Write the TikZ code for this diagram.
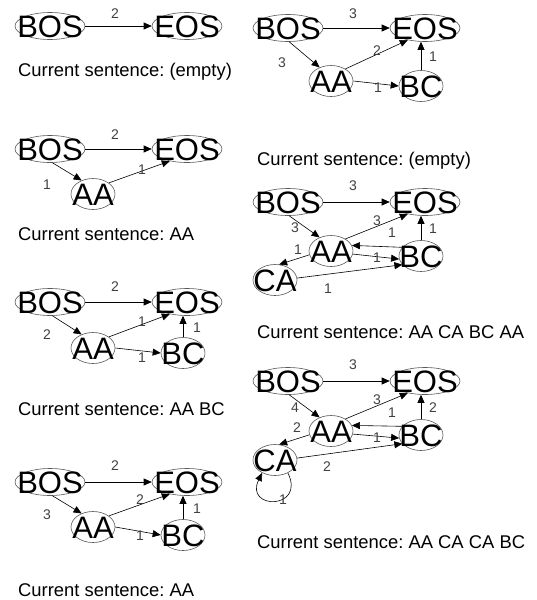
\documentclass[tikz,border=0pt]{standalone}
\usepackage{fontspec}
\setmainfont{Liberation Sans}
\usetikzlibrary{arrows.meta,shapes.geometric}
\frenchspacing
\newcommand{\nodetxt}[1]{\makebox[0pt]{\smash{\raisebox{-0.36em}{#1}}}}
\begin{document}
\begin{tikzpicture}[x=1pt,y=-1pt,
  st/.style={ellipse,draw=black!65,line width=0.6pt,fill=white,inner sep=0pt,font=\fontsize{31}{31}\selectfont},
  big/.style={st,minimum width=70pt,minimum height=27pt},
  sml/.style={st,minimum width=44pt,minimum height=31pt},
  lbl/.style={font=\fontsize{14}{14}\selectfont,text=black!75,inner sep=0pt},
  captxt/.style={font=\fontsize{18.4}{20}\selectfont,anchor=base west,inner sep=0pt},
  arr/.style={-{Triangle[length=8pt,width=7pt]},line width=0.6pt}]
\useasboundingbox (0,0) rectangle (537,600);

% ---------- D1 ----------
\node[big] (a1) at (50,26) {\nodetxt{BOS}};
\node[big] (b1) at (187,26) {\nodetxt{EOS}};
\draw[arr] (a1.east) -- (b1.west);
\node[lbl] (l11) at (115,14) {2};
\node[captxt] (t1) at (18,76) {Current sentence: (empty)};

% ---------- D2 ----------
\node[big] (a2) at (50,149) {\nodetxt{BOS}};
\node[big] (b2) at (187,149) {\nodetxt{EOS}};
\node[sml] (c2) at (93,194) {\nodetxt{AA}};
\draw[arr] (a2.east) -- (b2.west);
\draw[arr] (a2.-80) -- (c2.130);
\draw[arr] (c2.35) -- (b2.215);
\node[lbl] (l21) at (115,135) {2};
\node[lbl] (l22) at (47,185) {1};
\node[lbl] (l23) at (142,170) {1};
\node[captxt] (t2) at (18,240) {Current sentence: AA};

% ---------- D3 ----------
\node[big] (a3) at (50,302) {\nodetxt{BOS}};
\node[big] (b3) at (187,302) {\nodetxt{EOS}};
\node[sml] (c3) at (93,348) {\nodetxt{AA}};
\node[sml] (d3) at (183,353) {\nodetxt{BC}};
\draw[arr] (a3.east) -- (b3.west);
\draw[arr] (a3.-80) -- (c3.130);
\draw[arr] (c3.35) -- (b3.215);
\draw[arr] (c3.east) -- (d3.west);
\draw[arr] (d3.north) -- (d3.north |- b3.south);
\node[lbl] (l31) at (115,287) {2};
\node[lbl] (l32) at (47,335) {2};
\node[lbl] (l33) at (142,322) {1};
\node[lbl] (l34) at (142,358) {1};
\node[lbl] (l35) at (197,328) {1};
\node[captxt] (t3) at (18,415) {Current sentence: AA BC};

% ---------- D4 ----------
\node[big] (a4) at (50,482) {\nodetxt{BOS}};
\node[big] (b4) at (187,482) {\nodetxt{EOS}};
\node[sml] (c4) at (93,527) {\nodetxt{AA}};
\node[sml] (d4) at (183,535) {\nodetxt{BC}};
\draw[arr] (a4.east) -- (b4.west);
\draw[arr] (a4.-80) -- (c4.130);
\draw[arr] (c4.35) -- (b4.215);
\draw[arr] (c4.east) -- (d4.west);
\draw[arr] (d4.north) -- (d4.north |- b4.south);
\node[lbl] (l41) at (115,466) {2};
\node[lbl] (l42) at (47,515) {3};
\node[lbl] (l43) at (140,500) {2};
\node[lbl] (l44) at (140,536) {1};
\node[lbl] (l45) at (197,509) {1};
\node[captxt] (t4) at (18,596) {Current sentence: AA};

% ---------- D5 ----------
\node[big] (a5) at (288,28) {\nodetxt{BOS}};
\node[big] (b5) at (425,28) {\nodetxt{EOS}};
\node[sml] (c5) at (331,81) {\nodetxt{AA}};
\node[sml] (d5) at (421,86) {\nodetxt{BC}};
\draw[arr] (a5.east) -- (b5.west);
\draw[arr] (a5.-85) -- (c5.130);
\draw[arr] (c5.40) -- (b5.215);
\draw[arr] (c5.east) -- (d5.west);
\draw[arr] (d5.north) -- (d5.north |- b5.south);
\node[lbl] (l51) at (353,14) {3};
\node[lbl] (l52) at (282,63) {3};
\node[lbl] (l53) at (377,51) {2};
\node[lbl] (l54) at (433,57) {1};
\node[lbl] (l55) at (378,88) {1};
\node[captxt] (t5) at (257,165) {Current sentence: (empty)};

% ---------- D6 ----------
\node[big] (a6) at (288,202) {\nodetxt{BOS}};
\node[big] (b6) at (425,202) {\nodetxt{EOS}};
\node[sml] (c6) at (331,251) {\nodetxt{AA}};
\node[sml] (d6) at (421,256) {\nodetxt{BC}};
\node[sml] (e6) at (275,280) {\nodetxt{CA}};
\draw[arr] (a6.east) -- (b6.west);
\draw[arr] (a6.-85) -- (c6.130);
\draw[arr] (c6.40) -- (b6.215);
\draw[arr] (c6.-8) -- (d6.188);
\draw[arr] (d6.155) -- (c6.15);
\draw[arr] (d6.north) -- (d6.north |- b6.south);
\draw[arr] (c6.190) -- (e6.75);
\draw[arr] (e6.5) -- (d6.205);
\node[lbl] (l61) at (353,186) {3};
\node[lbl] (l62) at (295,228) {3};
\node[lbl] (l63) at (377,221) {3};
\node[lbl] (l64) at (392,233) {1};
\node[lbl] (l65) at (433,229) {1};
\node[lbl] (l66) at (377,258) {1};
\node[lbl] (l67) at (298,250) {1};
\node[lbl] (l68) at (328,289) {1};
\node[captxt] (t6) at (257,338) {Current sentence: AA CA BC AA};

% ---------- D7 ----------
\node[big] (a7) at (288,381) {\nodetxt{BOS}};
\node[big] (b7) at (425,381) {\nodetxt{EOS}};
\node[sml] (c7) at (331,431) {\nodetxt{AA}};
\node[sml] (d7) at (421,435) {\nodetxt{BC}};
\node[sml] (e7) at (275,460) {\nodetxt{CA}};
\draw[arr] (a7.east) -- (b7.west);
\draw[arr] (a7.-85) -- (c7.130);
\draw[arr] (c7.40) -- (b7.215);
\draw[arr] (c7.-8) -- (d7.188);
\draw[arr] (d7.155) -- (c7.15);
\draw[arr] (d7.north) -- (d7.north |- b7.south);
\draw[arr] (c7.190) -- (e7.75);
\draw[arr] (e7.5) -- (d7.205);
\draw[arr] (e7.-45) .. controls (306,510) and (244,510) .. (e7.-135);
\node[lbl] (l71) at (353,365) {3};
\node[lbl] (l72) at (295,408) {4};
\node[lbl] (l73) at (377,400) {3};
\node[lbl] (l74) at (392,413) {1};
\node[lbl] (l75) at (433,408) {2};
\node[lbl] (l76) at (377,438) {1};
\node[lbl] (l77) at (297,428) {2};
\node[lbl] (l78) at (327,467) {2};
\node[lbl] (l79) at (283,500) {1};
\node[captxt] (t7) at (257,548) {Current sentence: AA CA CA BC};
\end{tikzpicture}
\end{document}
